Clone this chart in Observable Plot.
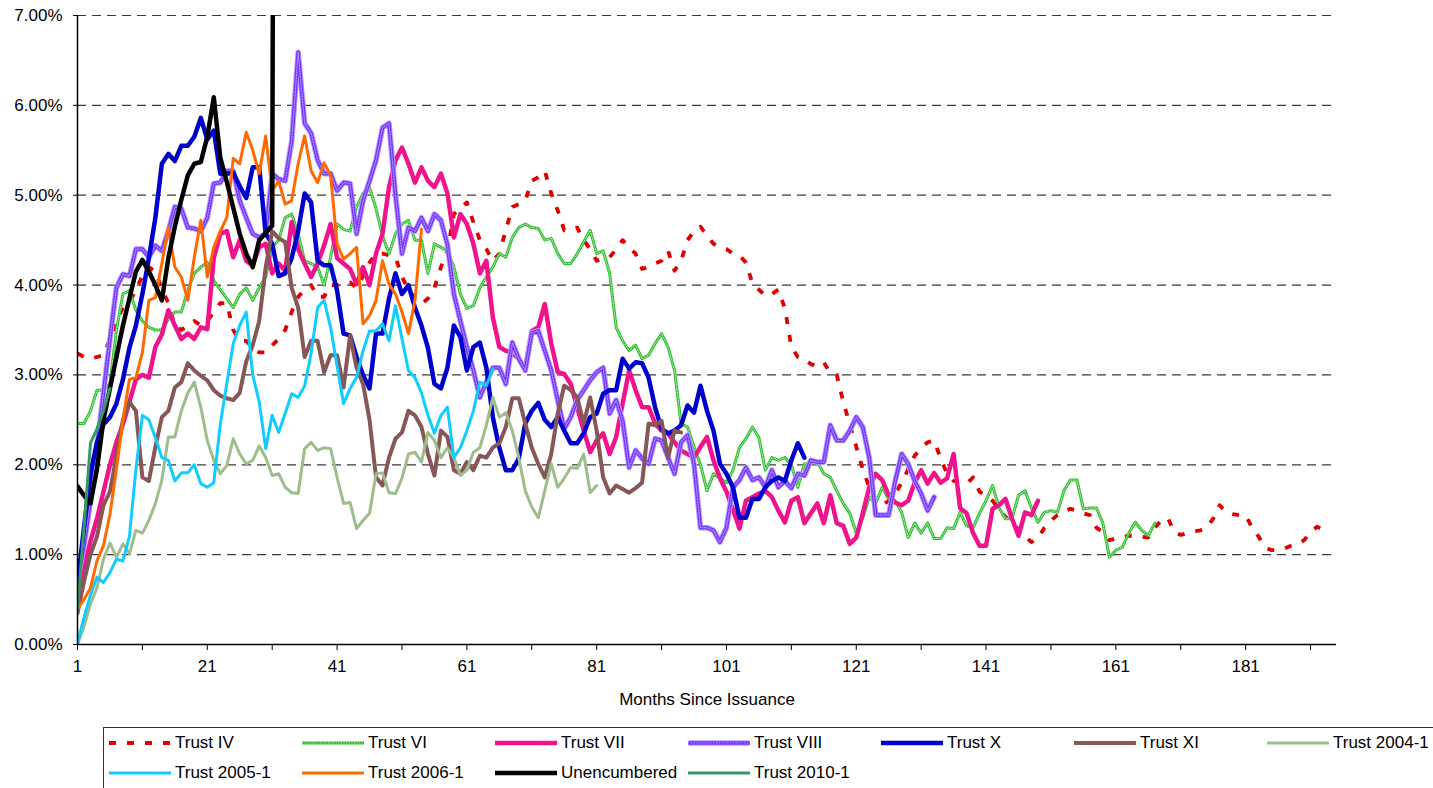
<!DOCTYPE html>
<html><head><meta charset="utf-8">
<script src="https://cdn.jsdelivr.net/npm/d3@7"></script>
<script src="https://cdn.jsdelivr.net/npm/@observablehq/plot@0.6"></script>
<style>
body{margin:0;background:#fff;font-family:"Liberation Sans",Arial,sans-serif;}
#wrap{position:relative;width:1433px;height:788px;overflow:hidden;}
#legend{position:absolute;left:103px;top:727px;width:1400px;height:100px;border:1px solid #333;box-sizing:border-box;}
.item{position:absolute;display:flex;align-items:center;font-size:17px;color:#000;white-space:nowrap;height:22px;}
.item svg{margin-right:4px;}
</style></head><body><div id="wrap"><div id="chart"></div><div id="legend"></div></div>
<script>
// ---- data (values in %) : index 0 = month 1 ----
const trustIV = [3.24,3.2,3.18,3.2,3.22,3.4,3.6,3.75,3.8,3.95,
4.1,4.2,4.15,3.95,3.8,3.55,3.5,3.55,3.6,3.55,
3.6,3.7,3.8,3.8,3.5,3.38,3.38,3.3,3.25,3.25,
3.33,3.4,3.5,3.7,3.87,3.95,4.0,3.87,3.87,4.0,
4.0,4.02,4.03,3.97,4.1,4.25,4.35,4.35,4.33,4.31,
4.09,3.95,3.85,3.79,3.85,3.97,4.2,4.38,4.79,4.85,
4.92,4.7,4.5,4.4,4.27,4.35,4.61,4.87,4.9,4.94,
5.16,5.2,5.27,5.02,4.83,4.61,4.62,4.64,4.5,4.4,
4.27,4.3,4.31,4.4,4.5,4.42,4.35,4.18,4.2,4.24,
4.27,4.38,4.16,4.27,4.5,4.6,4.65,4.55,4.46,4.42,
4.4,4.35,4.33,4.25,4.02,3.95,3.88,3.9,3.95,3.74,
3.31,3.2,3.18,3.12,3.1,3.14,3.02,3.0,2.7,2.45,
2.2,1.95,1.75,1.6,1.55,1.6,1.68,1.8,1.95,2.1,
2.19,2.25,2.27,2.07,1.9,1.82,1.8,1.79,1.86,1.7,
1.66,1.6,1.5,1.42,1.35,1.28,1.2,1.14,1.18,1.3,
1.38,1.44,1.48,1.51,1.49,1.46,1.44,1.3,1.25,1.16,
1.18,1.2,1.21,1.21,1.2,1.19,1.3,1.38,1.41,1.25,
1.22,1.24,1.26,1.27,1.3,1.4,1.55,1.47,1.45,1.44,
1.44,1.3,1.2,1.08,1.05,1.06,1.07,1.1,1.12,1.16,
1.25,1.31,1.28,1.25];

const trustVI = [2.46,2.46,2.6,2.83,2.83,2.9,3.5,3.9,3.94,3.72,
3.6,3.53,3.5,3.5,3.62,3.7,3.7,3.94,4.13,4.2,
4.25,4.05,3.95,3.85,3.75,3.9,3.97,3.83,3.97,4.09,
4.42,4.5,4.75,4.79,4.57,4.27,4.24,4.2,4.0,4.31,
4.68,4.62,4.6,4.87,5.02,5.09,4.85,4.55,4.35,4.57,
4.68,4.72,4.5,4.5,4.13,4.46,4.42,4.38,4.2,3.9,
3.74,3.77,3.97,4.09,4.2,4.35,4.31,4.53,4.64,4.68,
4.64,4.63,4.5,4.52,4.35,4.24,4.24,4.35,4.48,4.61,
4.35,4.38,4.13,3.53,3.38,3.27,3.33,3.18,3.22,3.35,
3.46,3.31,3.05,2.46,2.42,2.2,2.0,1.71,1.9,1.85,
1.8,1.94,2.19,2.29,2.42,2.3,1.94,2.08,2.05,2.08,
2.0,1.75,2.01,2.02,2.03,1.9,1.86,1.71,1.57,1.46,
1.24,1.41,1.64,1.57,1.75,1.62,1.6,1.47,1.19,1.35,
1.24,1.35,1.18,1.18,1.3,1.29,1.47,1.32,1.3,1.46,
1.6,1.77,1.52,1.4,1.4,1.66,1.71,1.52,1.36,1.47,
1.49,1.47,1.71,1.83,1.83,1.51,1.52,1.52,1.35,0.97,
1.05,1.08,1.24,1.36,1.27,1.21,1.35];

const trustVII = [0.57,0.85,1.15,1.4,1.7,2.0,2.25,2.45,2.7,2.95,
3.0,2.97,3.31,3.45,3.72,3.55,3.4,3.46,3.4,3.53,
3.51,4.3,4.57,4.6,4.31,4.5,4.27,4.22,4.42,4.46,
4.13,4.24,4.16,4.7,4.4,4.24,4.09,4.24,4.44,4.68,
4.3,4.24,4.18,4.01,4.2,4.0,4.35,4.57,5.09,5.39,
5.53,5.35,5.14,5.31,5.16,5.09,5.24,5.02,4.53,4.79,
4.68,4.46,4.13,4.27,3.64,3.31,3.27,3.24,3.18,3.08,
3.49,3.53,3.79,3.35,3.03,3.01,2.9,2.64,2.38,2.14,
2.27,2.35,2.12,2.31,2.68,3.05,2.83,2.64,2.64,2.46,
2.38,2.35,2.25,2.16,2.12,2.08,2.2,2.31,2.05,1.85,
1.7,1.5,1.29,1.6,1.64,1.68,1.71,1.64,1.49,1.36,
1.6,1.64,1.35,1.46,1.57,1.35,1.66,1.35,1.32,1.12,
1.19,1.46,1.75,1.9,1.83,1.66,1.58,1.55,1.6,1.8,
1.94,1.79,1.91,1.8,1.85,2.12,1.52,1.46,1.24,1.1,
1.1,1.51,1.55,1.62,1.4,1.21,1.47,1.44,1.6];

const trustVIII = [0.7,1.1,1.6,2.2,2.8,3.4,3.97,4.12,4.1,4.4,
4.4,4.31,4.44,4.38,4.6,4.87,4.85,4.64,4.63,4.6,
4.75,5.13,5.14,5.27,5.27,4.94,4.75,4.57,4.53,4.57,
5.24,5.18,5.16,5.6,6.59,5.8,5.69,5.39,5.24,5.24,
5.05,5.14,5.13,4.57,4.94,5.16,5.39,5.75,5.8,5.0,
4.35,4.64,4.6,4.75,4.6,4.79,4.72,4.45,3.9,3.6,
3.31,3.05,2.75,2.92,3.08,3.08,2.9,3.36,3.18,3.05,
3.47,3.49,3.27,3.05,2.72,2.4,2.53,2.72,2.83,2.94,
3.03,3.08,2.57,2.72,2.49,1.97,2.16,2.07,2.01,2.29,
2.27,2.08,1.9,2.25,2.33,2.01,1.3,1.3,1.27,1.14,
1.3,1.75,1.83,1.97,1.83,1.86,1.75,1.94,1.75,1.82,
1.74,1.9,1.88,2.05,2.03,2.03,2.44,2.27,2.27,2.38,
2.53,2.42,2.08,1.44,1.44,1.44,1.82,2.12,2.01,1.82,
1.68,1.49,1.64];

const trustX = [0.68,1.3,1.9,2.25,2.45,2.53,2.68,2.95,3.3,3.55,
3.9,4.3,4.75,5.35,5.46,5.38,5.55,5.55,5.65,5.86,
5.62,5.72,5.24,5.24,5.25,5.1,4.97,5.31,5.31,4.57,
4.46,4.1,4.13,4.3,4.6,5.02,4.92,4.27,4.22,4.22,
3.94,3.46,3.44,3.2,3.0,2.85,3.46,3.46,3.85,4.13,
3.9,4.0,3.75,3.55,3.3,2.9,2.85,3.08,3.55,3.42,
3.05,3.31,3.36,3.08,2.53,2.19,1.94,1.94,2.07,2.46,
2.6,2.69,2.5,2.42,2.53,2.38,2.24,2.24,2.35,2.53,
2.57,2.79,2.83,2.83,3.18,3.07,3.14,3.13,2.97,2.64,
2.4,2.35,2.38,2.44,2.66,2.58,2.88,2.6,2.38,2.01,
1.9,1.75,1.41,1.41,1.62,1.62,1.75,1.82,1.86,1.82,
2.05,2.24,2.08];

const trustXI = [0.35,0.7,1.0,1.2,1.55,1.7,2.1,2.5,2.7,2.6,
1.86,1.82,2.2,2.53,2.6,2.86,2.92,3.13,3.05,2.99,
2.94,2.83,2.77,2.74,2.72,2.8,3.15,3.33,3.6,4.2,
4.6,4.52,4.48,3.97,3.75,3.2,3.38,3.38,3.03,3.22,
3.22,2.86,3.44,3.08,2.9,2.5,1.86,1.77,2.08,2.29,
2.36,2.6,2.55,2.42,2.12,1.88,2.38,2.31,1.94,1.9,
2.03,1.94,2.1,2.08,2.19,2.24,2.42,2.74,2.74,2.46,
2.19,2.01,1.86,2.12,2.57,2.88,2.83,2.75,2.46,2.75,
2.38,1.86,1.68,1.77,1.73,1.69,1.74,1.8,2.46,2.44,
2.49,2.08,2.38,2.36];

const trust2004_1 = [0.0,0.2,0.45,0.63,0.95,1.13,0.97,1.12,1.01,1.27,
1.24,1.38,1.57,1.83,2.31,2.31,2.6,2.8,2.92,2.64,
2.27,2.05,1.9,1.99,2.29,2.12,2.01,2.05,2.21,2.08,
1.88,1.9,1.75,1.69,1.68,2.18,2.25,2.16,2.19,2.18,
1.86,1.57,1.58,1.29,1.38,1.46,1.9,1.91,1.69,1.68,
1.85,2.12,2.14,2.03,2.36,2.27,2.08,2.19,2.08,1.88,
1.94,2.14,2.19,2.44,2.75,2.53,2.58,2.38,2.08,1.71,
1.53,1.41,1.71,2.01,1.75,1.85,1.97,1.96,2.12,1.69,
1.77];

const trust2005_1 = [0.02,0.3,0.55,0.75,0.69,0.8,0.95,0.93,1.2,1.95,
2.55,2.5,2.3,2.08,2.05,1.82,1.91,1.91,2.0,1.79,
1.75,1.8,2.45,2.9,3.35,3.55,3.7,3.0,2.7,2.18,
2.55,2.36,2.57,2.79,2.75,2.88,3.24,3.75,3.83,3.53,
3.1,2.68,2.85,2.97,3.27,3.49,3.49,3.57,3.38,3.77,
3.4,3.05,2.97,2.8,2.55,2.35,2.55,2.64,2.08,2.19,
2.38,2.6,2.92,2.88,3.07];

const trust2006_1 = [0.4,0.5,0.63,0.93,1.1,1.45,1.95,2.5,2.95,2.97,
3.25,3.83,3.86,4.24,4.64,4.2,4.09,3.83,4.31,4.72,
4.09,4.42,4.6,4.75,5.41,5.35,5.7,5.5,5.24,5.66,
5.05,5.16,4.9,4.94,5.35,5.66,5.27,5.14,5.36,5.22,
4.46,4.29,4.35,4.42,3.57,3.66,3.83,4.27,4.01,3.9,
3.7,3.46,3.83,4.62];

const unencumbered = [1.76,1.66,1.57,1.95,2.5,2.85,3.2,3.55,3.85,4.15,
4.28,4.15,4.0,3.83,4.3,4.65,4.95,5.22,5.35,5.37,
5.65,6.09,5.42,5.15,4.86,4.57,4.35,4.2,4.5,4.58,
4.66,30];

const trust2010_1 = [0.41,1.3,2.24,2.4,2.6,2.85];

const seriesNames = ["Trust IV","Trust VI","Trust VII","Trust VIII","Trust X","Trust XI","Trust 2004-1","Trust 2005-1","Trust 2006-1","Unencumbered","Trust 2010-1"];
const seriesData = [trustIV,trustVI,trustVII,trustVIII,trustX,trustXI,trust2004_1,trust2005_1,trust2006_1,unencumbered,trust2010_1];
const yTicks = [0,1,2,3,4,5,6,7];
const xTicks = d3.range(1, 192, 10);

// ---- styles ----
const styles = {
  "Trust IV":     {stroke:"#e00000", w:3.8, dash:"7,11", cap:"butt"},
  "Trust VI":     {stroke:"#2fbf2f", w:3, texture:{w:1, dash:"1,1.6", op:0.7}},
  "Trust VII":    {stroke:"#f0148c", w:4.5},
  "Trust VIII":   {stroke:"#7436ff", w:3.6, halo:{stroke:"#b898ff", w:5.6}, texture:{w:1.2, dash:"1.2,1.6", op:0.45}},
  "Trust X":      {stroke:"#0000cc", w:4.5},
  "Trust XI":     {stroke:"#875656", w:4},
  "Trust 2004-1": {stroke:"#9dbd8c", w:3},
  "Trust 2005-1": {stroke:"#11ccff", w:3},
  "Trust 2006-1": {stroke:"#ff6a00", w:3},
  "Unencumbered": {stroke:"#000000", w:4.5},
  "Trust 2010-1": {stroke:"#339966", w:3}
};

const lineMarks = [];
seriesNames.forEach((name, k) => {
  const s = styles[name], data = seriesData[k];
  if (s.halo) {
    lineMarks.push(Plot.line(data, {
      x: (d, i) => i + 1, y: d => d, stroke: s.halo.stroke, strokeWidth: s.halo.w,
      strokeLinejoin: "round", strokeLinecap: "round", clip: true
    }));
  }
  lineMarks.push(Plot.line(data, {
    x: (d, i) => i + 1, y: d => d, stroke: s.stroke, strokeWidth: s.w,
    strokeDasharray: s.dash, strokeLinecap: s.cap || "round", strokeLinejoin: "round",
    clip: true, curve: "linear"
  }));
  if (s.texture) {
    lineMarks.push(Plot.line(data, {
      x: (d, i) => i + 1, y: d => d, stroke: "#fff", strokeWidth: s.texture.w,
      strokeDasharray: s.texture.dash, strokeOpacity: s.texture.op, clip: true
    }));
  }
});

const chart = Plot.plot({
  width: 1433, height: 720,
  marginLeft: 77, marginRight: 97, marginTop: 15, marginBottom: 76,
  x: {domain: [1, 195]},
  y: {domain: [0, 7]},
  style: {fontFamily: '"Liberation Sans", Arial, sans-serif', fontSize: "17px", color: "#000", background: "#fff"},
  marks: [
    Plot.ruleY(yTicks.filter(d => d > 0), {stroke: "#3a3a3a", strokeWidth: 1.2, strokeDasharray: "9,6"}),
    ...lineMarks,
    Plot.ruleY([0], {stroke: "#000", strokeWidth: 1.5}),
    Plot.ruleX([1], {stroke: "#000", strokeWidth: 1.5}),
    Plot.axisY({ticks: yTicks, tickFormat: d => d.toFixed(2) + "%", tickSize: 4, tickPadding: 11, fontSize: 17, label: null, stroke: "#000"}),
    Plot.axisX({ticks: xTicks, tickFormat: d => ((d - 1) % 20 === 0 ? String(d) : ""), tickSize: 6, tickPadding: 9, fontSize: 17, label: null, stroke: "#000"}),
    Plot.text(["Months Since Issuance"], {text: d => d, frameAnchor: "bottom", dy: 60, fontSize: 17, fill: "#000"})
  ]
});
document.getElementById("chart").appendChild(chart);

// ---- legend ----
const legend = document.getElementById("legend");
seriesNames.forEach((name, k) => {
  const s = styles[name];
  const col = k % 7, row = Math.floor(k / 7);
  const div = document.createElement("div");
  div.className = "item";
  div.style.left = (5 + 193 * col) + "px";
  div.style.top = (4 + 30 * row) + "px";
  let svg = `<svg width="62" height="12">`;
  if (s.halo) svg += `<line x1="1" x2="61" y1="6" y2="6" stroke="${s.halo.stroke}" stroke-width="${s.halo.w}"/>`;
  svg += `<line x1="0" x2="62" y1="6" y2="6" stroke="${s.stroke}" stroke-width="${s.w}" ${s.dash ? `stroke-dasharray="${s.dash}"` : ""} stroke-linecap="${s.dash ? "butt" : "round"}"/>`;
  if (s.texture) svg += `<line x1="0" x2="62" y1="6" y2="6" stroke="#fff" stroke-width="${s.texture.w}" stroke-dasharray="${s.texture.dash}" stroke-opacity="${s.texture.op}"/>`;
  svg += `</svg>`;
  div.innerHTML = svg + `<span>${name}</span>`;
  legend.appendChild(div);
});
</script>
</body></html>
